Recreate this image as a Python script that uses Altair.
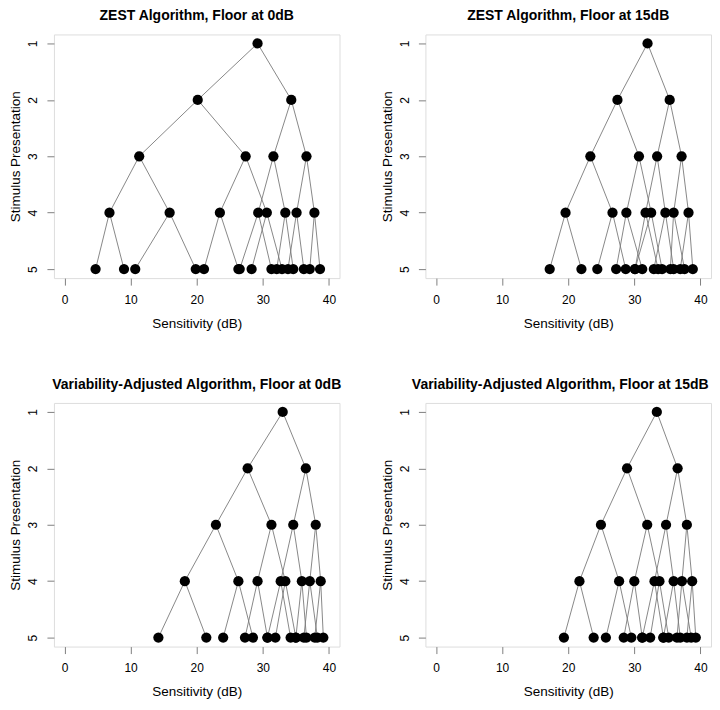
import altair as alt
import pandas as pd

# ---- data: node sensitivities (dB) per presentation level, binary tree order ----
# children of node i at level k are nodes 2i (not seen) and 2i+1 (seen) at level k+1
zest0_l1 = [29.2]
zest0_l2 = [20.15, 34.3]
zest0_l3 = [11.3, 27.4, 31.6, 36.6]
zest0_l4 = [6.8, 15.9, 23.5, 30.6, 29.3, 33.4, 35.1, 37.8]
zest0_l5 = [4.7, 9.0, 10.7, 19.85, 21.1, 26.3, 28.3, 32.9,
            26.5, 31.3, 32.1, 34.6, 33.8, 36.2, 37.1, 38.65]

zest15_l1 = [32.0]
zest15_l2 = [27.45, 35.35]
zest15_l3 = [23.35, 30.7, 33.45, 37.15]
zest15_l4 = [19.6, 26.7, 28.8, 32.55, 31.7, 34.7, 35.95, 38.2]
zest15_l5 = [17.2, 22.0, 24.4, 28.7, 27.25, 31.2, 30.1, 34.2,
             30.1, 33.6, 32.95, 35.95, 35.45, 37.6, 36.95, 38.85]

var0_l1 = [33.0]
var0_l2 = [27.7, 36.5]
var0_l3 = [22.9, 31.3, 34.6, 38.0]
var0_l4 = [18.2, 26.3, 29.2, 33.4, 32.7, 35.9, 37.1, 38.75]
var0_l5 = [14.2, 21.45, 24.0, 28.5, 27.3, 30.7, 31.9, 34.99,
           30.7, 34.2, 34.99, 36.6, 36.2, 38.25, 37.85, 39.15]

var15_l1 = [33.4]
var15_l2 = [28.9, 36.55]
var15_l3 = [24.95, 31.95, 34.8, 37.95]
var15_l4 = [21.7, 27.7, 30.0, 33.8, 33.05, 35.95, 37.2, 38.75]
var15_l5 = [19.35, 23.85, 25.7, 29.55, 28.4, 31.2, 32.4, 35.2,
            31.2, 34.4, 34.4, 36.95, 36.45, 38.6, 37.95, 39.3]

titles = [
    "ZEST Algorithm, Floor at 0dB",
    "ZEST Algorithm, Floor at 15dB",
    "Variability-Adjusted Algorithm, Floor at 0dB",
    "Variability-Adjusted Algorithm, Floor at 15dB",
]
x_ticks = [0, 10, 20, 30, 40]
y_ticks = [1, 2, 3, 4, 5]

FONT = "Liberation Sans"
W, H = 286, 244


def panel(title, levels, title_dx=0):
    pts, edges = [], []
    for k, vals in enumerate(levels, start=1):
        for i, v in enumerate(vals):
            pts.append({"x": v, "y": k})
            if k < len(levels):
                for j in (2 * i, 2 * i + 1):
                    edges.append({"x": v, "y": k, "x2": levels[k][j], "y2": k + 1})
    pts_df = pd.DataFrame(pts)
    edges_df = pd.DataFrame(edges)

    xscale = alt.Scale(domain=[-1.6, 41.6], nice=False, zero=False)
    yscale = alt.Scale(domain=[0.84, 5.16], reverse=True, nice=False, zero=False)
    xaxis = alt.Axis(values=x_ticks, format="d", grid=False, domain=False,
                     tickSize=7, tickColor="#808080", labelPadding=14,
                     labelBaseline="middle", labelFont=FONT, labelFontSize=12,
                     labelColor="black", title="Sensitivity (dB)",
                     titleFont=FONT, titleFontSize=13.5, titleFontWeight="normal",
                     titleColor="black", titleX=W / 2, titleY=45,
                     titleBaseline="middle", titleAlign="center")
    yaxis = alt.Axis(values=y_ticks, format="d", grid=False, domain=False,
                     tickSize=7, tickColor="#808080", labelPadding=14,
                     labelAngle=270, labelAlign="center", labelBaseline="middle",
                     labelFont=FONT, labelFontSize=12, labelColor="black",
                     title="Stimulus Presentation", titleFont=FONT,
                     titleFontSize=13.5, titleFontWeight="normal",
                     titleColor="black", titleAngle=270, titleX=-38,
                     titleY=H / 2, titleBaseline="middle", titleAlign="center")

    rules = alt.Chart(edges_df).mark_rule(color="#7a7a7a", strokeWidth=0.9).encode(
        x=alt.X("x:Q", scale=xscale, axis=xaxis),
        y=alt.Y("y:Q", scale=yscale, axis=yaxis),
        x2="x2:Q",
        y2="y2:Q",
    )
    points = alt.Chart(pts_df).mark_circle(size=105, color="black", opacity=1).encode(
        x=alt.X("x:Q", scale=xscale),
        y=alt.Y("y:Q", scale=yscale),
    )
    return alt.layer(rules, points).properties(
        width=W, height=H,
        title=alt.TitleParams(title, font=FONT, fontSize=14, fontWeight="bold",
                              color="black", anchor="middle", baseline="bottom",
                              offset=-3, dx=title_dx),
    )


p1 = panel(titles[0], [zest0_l1, zest0_l2, zest0_l3, zest0_l4, zest0_l5])
p2 = panel(titles[1], [zest15_l1, zest15_l2, zest15_l3, zest15_l4, zest15_l5])
p3 = panel(titles[2], [var0_l1, var0_l2, var0_l3, var0_l4, var0_l5])
p4 = panel(titles[3], [var15_l1, var15_l2, var15_l3, var15_l4, var15_l5],
           title_dx=-8)

chart = alt.concat(p1, p2, p3, p4, columns=2,
                   spacing={"row": 125, "column": 86}, bounds="flush").properties(
    padding=0
).configure_view(stroke="#808080", strokeWidth=1).configure(background="white")

chart.save("out.html", embed_options={"renderer": "svg", "actions": False})
